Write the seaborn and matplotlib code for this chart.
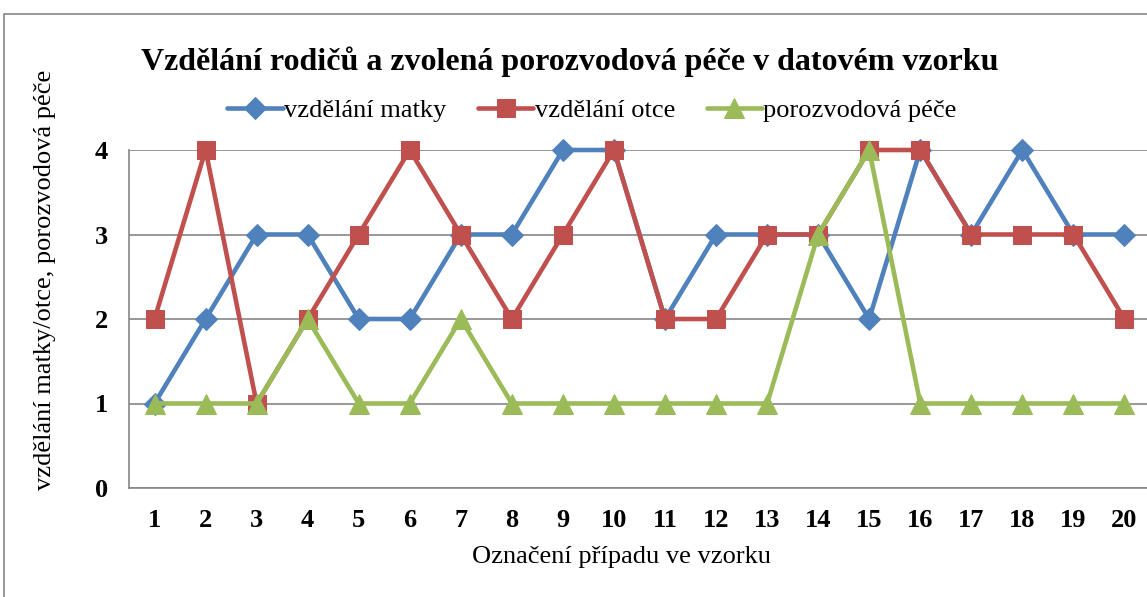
import matplotlib
matplotlib.use('Agg')
import matplotlib.pyplot as plt
import matplotlib.patches as mpatches
import numpy as np
import pandas as pd
import seaborn as sns

# case numbers and values
cases = list(range(1, 21))
vzdelani_matky = [1, 2, 3, 3, 2, 2, 3, 3, 4, 4, 2, 3, 3, 3, 2, 4, 3, 4, 3, 3]
vzdelani_otce = [2, 4, 1, 2, 3, 4, 3, 2, 3, 4, 2, 2, 3, 3, 4, 4, 3, 3, 3, 2]
porozvodova_pece = [1, 1, 1, 2, 1, 1, 2, 1, 1, 1, 1, 1, 1, 3, 4, 1, 1, 1, 1, 1]

series_names = ['vzdělání matky', 'vzdělání otce', 'porozvodová péče']
colors = {'vzdělání matky': '#4F81BD', 'vzdělání otce': '#C0504D',
          'porozvodová péče': '#9BBB59'}
markers = {'vzdělání matky': 'D', 'vzdělání otce': 's',
           'porozvodová péče': '^'}
marker_sizes = {'vzdělání matky': 11, 'vzdělání otce': 13.5,
                'porozvodová péče': 14}

df = pd.DataFrame({
    'case': cases * 3,
    'value': vzdelani_matky + vzdelani_otce + porozvodova_pece,
    'series': [s for s in series_names for _ in cases],
})

sns.set_style('white')
plt.rcParams['font.family'] = ['Liberation Serif', 'DejaVu Serif']
plt.rcParams['text.color'] = 'black'
plt.rcParams['xtick.labelcolor'] = 'black'
plt.rcParams['ytick.labelcolor'] = 'black'

fig = plt.figure(figsize=(11.47, 5.97), dpi=100)
ax = fig.add_axes([129 / 1147, 1 - 488 / 597, 1021 / 1147, 338 / 597])

grid_col = '#868686'
for s in series_names:
    sub = df[df['series'] == s]
    sns.lineplot(data=sub, x='case', y='value', color=colors[s],
                 marker=markers[s], markersize=marker_sizes[s],
                 markeredgecolor=colors[s], linewidth=3.3, label=s,
                 ax=ax, clip_on=False, zorder=3)

ax.set_xlim(0.5, 20.5)
ax.set_ylim(0, 4)
ax.set_xticks(cases)
ax.set_yticks([0, 1, 2, 3, 4])
ax.tick_params(axis='x', length=0, pad=15, labelsize=19, labelcolor='black')
ax.tick_params(axis='y', length=7, width=1, color=grid_col, pad=8,
               labelsize=19, labelcolor='black')
for lab in ax.get_xticklabels() + ax.get_yticklabels():
    lab.set_fontweight('bold')

ax.yaxis.grid(True, color=grid_col, linewidth=1.2)
ax.set_axisbelow(True)
for side in ['top', 'right']:
    ax.spines[side].set_visible(False)
for side in ['left', 'bottom']:
    ax.spines[side].set_color(grid_col)
    ax.spines[side].set_linewidth(1.2)

ax.set_xlabel('')
ax.set_ylabel('')
fig.text(621 / 1147, 1 - 557 / 597, 'Označení případu ve vzorku',
         ha='center', va='center', fontsize=19, color='black')
fig.text(45 / 1147, 1 - 280 / 597, 'vzdělání matky/otce, porozvodová péče',
         ha='center', va='center', rotation=90, fontsize=19, color='black')
fig.text(570 / 1147, 1 - 62 / 597,
         'Vzdělání rodičů a zvolená porozvodová péče v datovém vzorku',
         ha='center', va='center', fontsize=23, fontweight='bold',
         color='black')

handles, labels = ax.get_legend_handles_labels()
leg = ax.legend(handles, labels, ncol=3, loc='center',
                bbox_to_anchor=(592 / 1147, 1 - 110 / 597),
                bbox_transform=fig.transFigure, frameon=False, fontsize=19,
                handlelength=2.1, handletextpad=0.05, columnspacing=1.2,
                borderaxespad=0, labelcolor='black')

# outer chart frame
fig.patches.append(mpatches.Rectangle(
    (4 / 1147, -0.1), 1.2, 1.1 - 14 / 597, transform=fig.transFigure,
    fill=False, edgecolor=grid_col, linewidth=1.2))

fig.savefig('out.png', dpi=100)
